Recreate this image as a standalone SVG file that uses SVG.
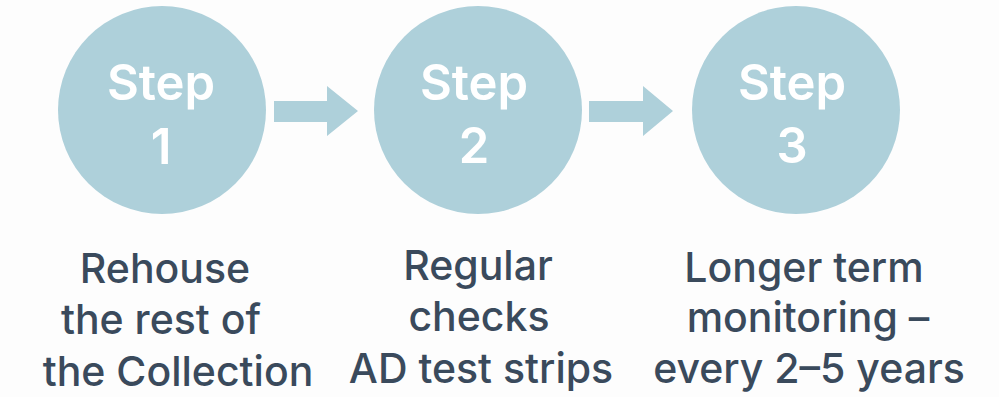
<svg xmlns="http://www.w3.org/2000/svg" width="999" height="397" viewBox="0 0 999 397">
  <style>
    .circle { fill: #AED0DA; }
    .arrow { fill: #AED0DA; }
    .step { font-family: Inter, "Noto Sans", "Liberation Sans", sans-serif; font-weight: 600; font-size: 49px; fill: #FFFFFF; text-anchor: middle; }
    .label { font-family: Inter, "Noto Sans", "Liberation Sans", sans-serif; font-weight: 550; font-size: 41px; fill: #3A4A5C; text-anchor: middle; }
  </style>
  <rect width="999" height="397" fill="#FDFDFD"/>
  <g id="connectors">
    <path class="arrow" d="M274,101 H327 V86 L358,111 L327,136 V122 H274 Z"/>
    <path class="arrow" d="M589,101 H643 V86 L673,111 L643,136 V122 H589 Z"/>
  </g>
  <g id="step1">
    <circle class="circle" cx="162" cy="110" r="104"/>
    <text class="step" x="161" y="100">Step</text>
    <text class="step" x="161" y="164" font-size="51">1</text>
    <text class="label" x="165" y="283">Rehouse</text>
    <text class="label" x="161" y="334">the rest of</text>
    <text class="label" x="178" y="386">the Collection</text>
  </g>
  <g id="step2">
    <circle class="circle" cx="478" cy="110" r="104"/>
    <text class="step" x="474" y="100">Step</text>
    <text class="step" x="474" y="163" font-size="51">2</text>
    <text class="label" x="478" y="280">Regular</text>
    <text class="label" x="479" y="331">checks</text>
    <text class="label" x="481" y="383">AD test strips</text>
  </g>
  <g id="step3">
    <circle class="circle" cx="796" cy="110" r="104"/>
    <text class="step" x="792" y="100">Step</text>
    <text class="step" x="792" y="163" font-size="51">3</text>
    <text class="label" x="804" y="282">Longer term</text>
    <text class="label" x="808" y="332">monitoring –</text>
    <text class="label" x="809" y="383">every 2–5 years</text>
  </g>
</svg>
